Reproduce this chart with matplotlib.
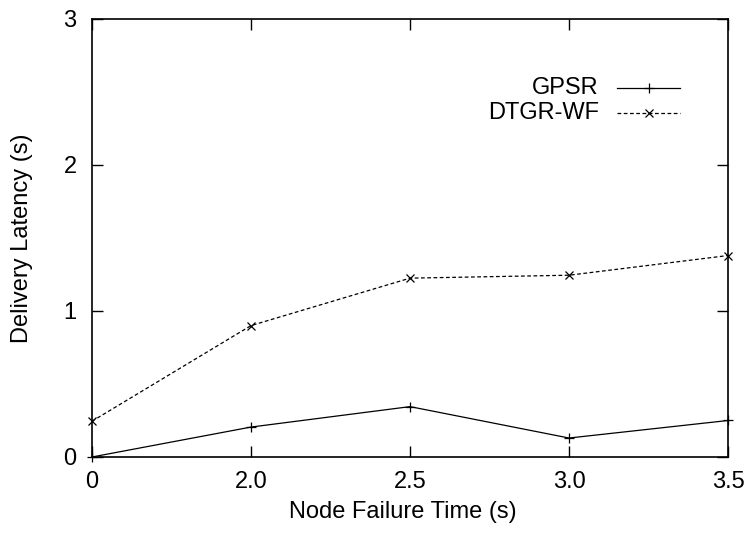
import matplotlib
matplotlib.use("Agg")
import matplotlib.pyplot as plt
from matplotlib.ticker import MultipleLocator

# Data
failure_times = ["0", "2.0", "2.5", "3.0", "3.5"]
gpsr_latency = [0.0, 0.205, 0.345, 0.13, 0.25]
dtgr_wf_latency = [0.245, 0.90, 1.225, 1.245, 1.38]

plt.rcParams['font.family'] = ['Liberation Sans', 'DejaVu Sans']

fig = plt.figure(figsize=(7.49, 5.35), dpi=100)
ax = fig.add_axes([0.1228, 0.1458, 0.8492, 0.8187])

xs = list(range(len(failure_times)))
ax.plot(xs, gpsr_latency, color="black", lw=0.9, marker="+", ms=7, mew=0.9,
        clip_on=False)
ax.plot(xs, dtgr_wf_latency, color="black", lw=0.9, ls=(0, (3, 2)), marker="x",
        ms=5.5, mew=0.9, clip_on=False)

ax.set_xlim(0, len(failure_times) - 1)
ax.set_ylim(0, 3)
ax.set_xticks(xs)
ax.set_xticklabels(failure_times)
ax.yaxis.set_major_locator(MultipleLocator(1))

ax.tick_params(direction="in", length=8, width=1, top=True, right=True,
               labelsize=17)
ax.tick_params(axis="x", pad=10)
ax.tick_params(axis="y", pad=11)
for s in ax.spines.values():
    s.set_linewidth(1.2)

ax.set_xlabel("Node Failure Time (s)", fontsize=17, labelpad=6)
ax.xaxis.label.set_x(0.489)
ax.set_ylabel("Delivery Latency (s)", fontsize=17, labelpad=22)

# gnuplot style key: right-aligned text followed by sample line
leg = [("GPSR", "-", "+", 7, 0.842), ("DTGR-WF", (0, (3, 2)), "x", 5.5, 0.785)]
for name, ls, mk, ms, y in leg:
    ax.text(0.797, y, name, transform=ax.transAxes, ha="right", va="center",
            fontsize=17)
    ax.plot([0.825, 0.925], [y, y], transform=ax.transAxes, color="black",
            lw=0.9, ls=ls)
    ax.plot([0.875], [y], transform=ax.transAxes, color="black", marker=mk,
            ms=ms, mew=0.9)

fig.savefig("out.png", dpi=100)
